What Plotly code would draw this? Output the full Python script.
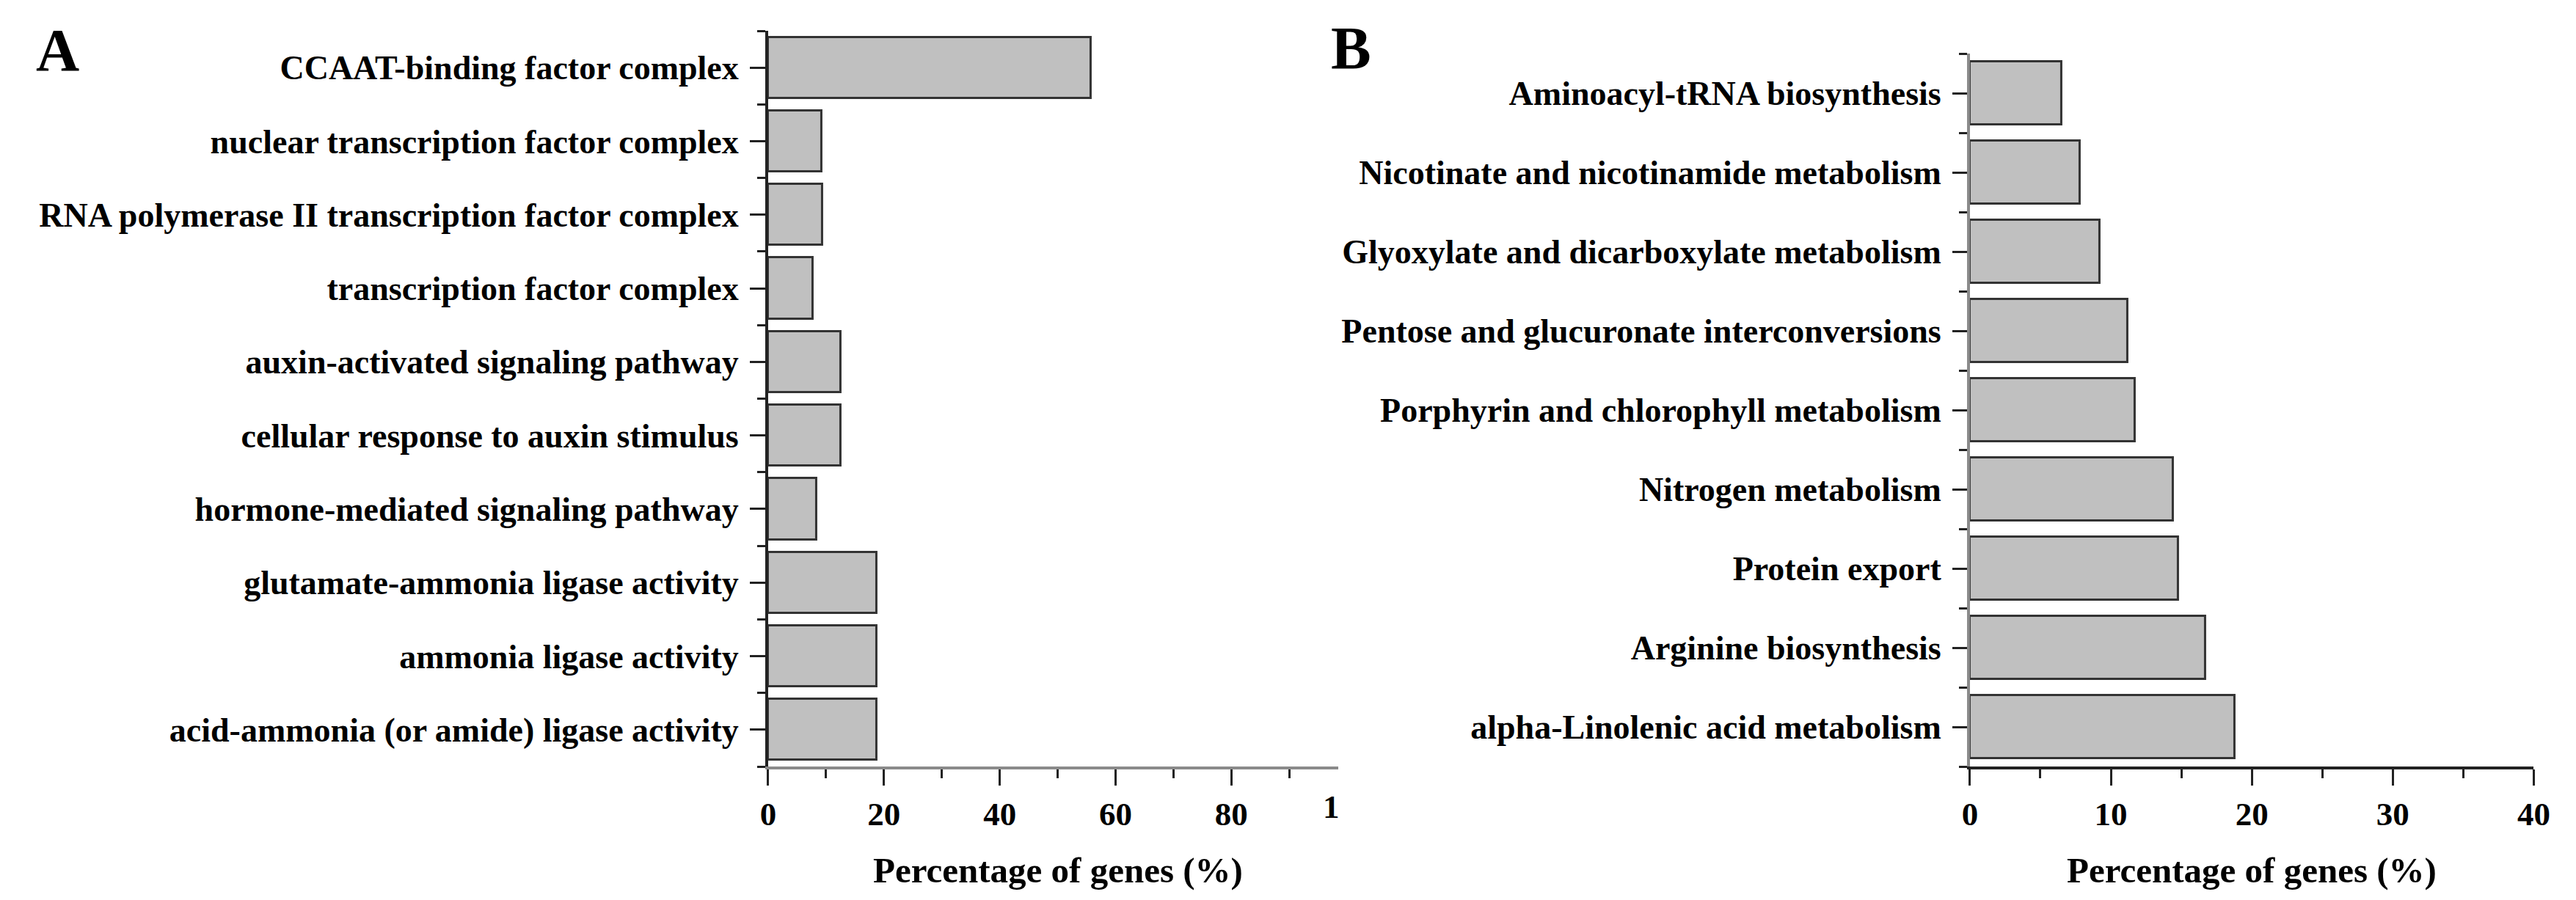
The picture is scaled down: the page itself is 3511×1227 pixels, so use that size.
import plotly.graph_objects as go

# ---- Data ----
go_terms = [
    "CCAAT-binding factor complex",
    "nuclear transcription factor complex",
    "RNA polymerase II transcription factor complex",
    "transcription factor complex",
    "auxin-activated signaling pathway",
    "cellular response to auxin stimulus",
    "hormone-mediated signaling pathway",
    "glutamate-ammonia ligase activity",
    "ammonia ligase activity",
    "acid-ammonia (or amide) ligase activity",
]
go_pct = [55.7, 9.3, 9.4, 7.7, 12.6, 12.6, 8.4, 18.7, 18.7, 18.7]

kegg_terms = [
    "Aminoacyl-tRNA biosynthesis",
    "Nicotinate and nicotinamide metabolism",
    "Glyoxylate and dicarboxylate metabolism",
    "Pentose and glucuronate interconversions",
    "Porphyrin and chlorophyll metabolism",
    "Nitrogen metabolism",
    "Protein export",
    "Arginine biosynthesis",
    "alpha-Linolenic acid metabolism",
]
kegg_pct = [6.5, 7.8, 9.2, 11.2, 11.7, 14.4, 14.8, 16.7, 18.8]

x_title = "Percentage of genes (%)"
a_ticks = [0, 20, 40, 60, 80]
b_ticks = [0, 10, 20, 30, 40]

FONT = "Liberation Serif, Times New Roman, serif"
BAR_FILL = "#c0c0c0"
BAR_LINE = "#333333"
DARK = "#222222"
GREY = "#8a8a8a"

W, H = 3511, 1227

fig = go.Figure()

ya = list(range(len(go_terms)))
yb = list(range(len(kegg_terms)))

fig.add_trace(go.Bar(
    x=go_pct, y=ya, orientation="h", width=0.83,
    marker=dict(color=BAR_FILL, line=dict(color=BAR_LINE, width=3)),
    xaxis="x", yaxis="y", showlegend=False,
))
fig.add_trace(go.Bar(
    x=kegg_pct, y=yb, orientation="h", width=0.80,
    marker=dict(color=BAR_FILL, line=dict(color=BAR_LINE, width=3)),
    xaxis="x2", yaxis="y2", showlegend=False,
))

tick_font = dict(family=FONT, size=45, color="black", weight="bold")
cat_font = dict(family=FONT, size=46, color="black", weight="bold")

def px_x(p):
    return p / W

def px_y(p):
    return 1 - p / H

fig.update_layout(
    width=W, height=H,
    margin=dict(l=0, r=0, t=0, b=0),
    paper_bgcolor="white", plot_bgcolor="white",
    bargap=0,
    xaxis=dict(
        domain=[px_x(1038), px_x(1823)], range=[0, 98.5],
        tickmode="array", tickvals=a_ticks,
        ticks="outside", ticklen=22, tickwidth=3, tickcolor=DARK,
        minor=dict(tickmode="array", tickvals=[10, 30, 50, 70, 90], ticks="outside",
                   ticklen=12, tickwidth=3, tickcolor=DARK),
        showline=True, linewidth=4, linecolor=GREY,
        showgrid=False, zeroline=False, tickfont=tick_font,
        anchor="y",
    ),
    yaxis=dict(
        domain=[px_y(1037), px_y(34)], range=[len(go_terms) - 0.5, -0.5],
        tickmode="array", tickvals=ya, ticktext=go_terms,
        ticks="outside", ticklen=21, tickwidth=3, tickcolor=DARK,
        minor=dict(tickmode="array", tickvals=[i - 0.5 for i in range(len(go_terms) + 1)],
                   ticks="outside", ticklen=11, tickwidth=3, tickcolor=DARK),
        showline=True, linewidth=4, linecolor=DARK,
        showgrid=False, zeroline=False, tickfont=cat_font,
        ticklabelstandoff=6,
        anchor="x",
    ),
    xaxis2=dict(
        domain=[px_x(2692), px_x(3468)], range=[0, 40],
        tickmode="array", tickvals=b_ticks,
        ticks="outside", ticklen=22, tickwidth=3, tickcolor=DARK,
        minor=dict(tickmode="array", tickvals=[5, 15, 25, 35], ticks="outside",
                   ticklen=12, tickwidth=3, tickcolor=DARK),
        showline=True, linewidth=4, linecolor=DARK,
        showgrid=False, zeroline=False, tickfont=tick_font,
        anchor="y2",
    ),
    yaxis2=dict(
        domain=[px_y(1037), px_y(65)], range=[len(kegg_terms) - 0.5, -0.5],
        tickmode="array", tickvals=yb, ticktext=kegg_terms,
        ticks="outside", ticklen=20, tickwidth=3, tickcolor=DARK,
        minor=dict(tickmode="array", tickvals=[i - 0.5 for i in range(len(kegg_terms) + 1)],
                   ticks="outside", ticklen=11, tickwidth=3, tickcolor=DARK),
        showline=True, linewidth=4, linecolor=GREY,
        showgrid=False, zeroline=False, tickfont=cat_font,
        ticklabelstandoff=6,
        anchor="x2",
    ),
)

ann_font_title = dict(family=FONT, size=49, color="black", weight="bold")
annotations = [
    dict(text=x_title, xref="x", x=50, yref="paper", y=px_y(1178),
         xanchor="center", yanchor="middle", showarrow=False, font=ann_font_title),
    dict(text=x_title, xref="x2", x=20, yref="paper", y=px_y(1178),
         xanchor="center", yanchor="middle", showarrow=False, font=ann_font_title),
    # clipped "100" label at the right end of panel A's axis
    dict(text="1", xref="x", x=97.2, yref="paper", y=px_y(1092),
         xanchor="center", yanchor="middle", showarrow=False, font=tick_font),
    dict(text="A", xref="paper", x=px_x(60), yref="paper", y=px_y(60),
         xanchor="center", yanchor="middle", showarrow=False,
         font=dict(family=FONT, size=82, color="black", weight="bold")),
    dict(text="B", xref="paper", x=px_x(1840), yref="paper", y=px_y(57),
         xanchor="center", yanchor="middle", showarrow=False,
         font=dict(family=FONT, size=82, color="black", weight="bold")),
]
fig.update_layout(annotations=annotations)

fig.write_html("out.html")
